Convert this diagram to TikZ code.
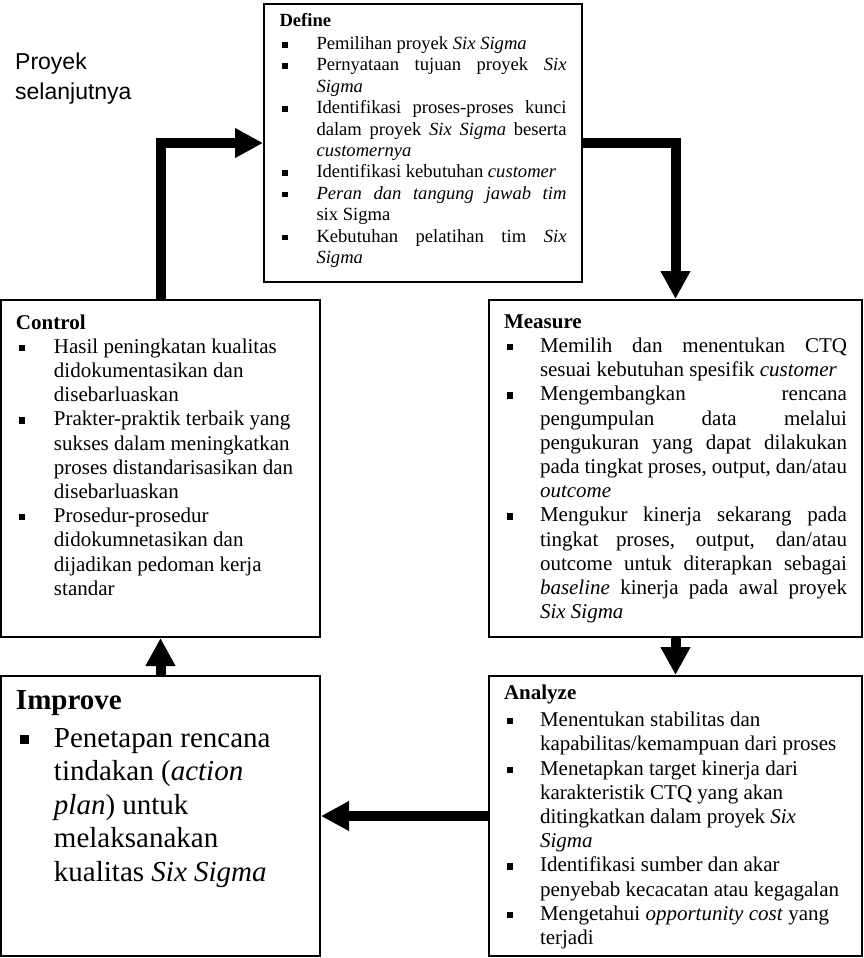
\documentclass[tikz,border=0pt]{standalone}
\usepackage{fontspec}
\setmainfont{Liberation Serif}
\newfontfamily\sansfont{Liberation Sans}
\usetikzlibrary{arrows.meta,positioning}

\newlength{\sqind}
\newcommand{\sqitem}{\par\hangindent=\sqind\hangafter=1%
  \makebox[\sqind][l]{\hspace{0.15em}\rule[0.11em]{0.3em}{0.3em}}\ignorespaces}
\newcommand{\boxbody}[4]{\setlength{\sqind}{#3}%
  \begin{minipage}[t][#2][t]{#1}\hyphenpenalty=10000 \exhyphenpenalty=10000
  \tolerance=10000 #4\end{minipage}}

\begin{document}
\begin{tikzpicture}[x=1pt, y=1pt,
  stage/.style={draw, line width=2pt, inner xsep=15pt, inner ysep=0pt},
  small/.style={font=\fontsize{18.6}{21.4}\selectfont},
  normal/.style={font=\fontsize{21}{24.2}\selectfont},
  arr/.style={-{Triangle[length=28pt, width=28pt]}, line width=10pt},
  node distance=37pt
]
  \useasboundingbox (0,0) rectangle (864,-958);

  % label top left
  \node[font=\sansfont\fontsize{23}{30}\selectfont, align=left, anchor=north west,
        inner sep=0pt] (nextproj) at (15,-53) {Proyek\\selanjutnya};

  % Define
  \node[stage, small, anchor=north west, minimum width=318pt, minimum height=278pt]
    (define) at (263,-3) {\boxbody{287pt}{259pt}{37pt}{%
      \textbf{Define}\par\vspace{1.6pt}
      \sqitem Pemilihan proyek \textit{Six Sigma}
      \sqitem Pernyataan tujuan proyek \textit{Six}\linebreak \textit{Sigma}
      \sqitem Identifikasi proses-proses kunci\linebreak dalam proyek \textit{Six Sigma} beserta\linebreak \textit{customernya}
      \sqitem Identifikasi kebutuhan \textit{customer}
      \sqitem \textit{Peran dan tangung jawab tim}\linebreak six Sigma
      \sqitem Kebutuhan pelatihan tim \textit{Six}\linebreak \textit{Sigma}}};

  % Control
  \node[stage, normal, anchor=north west, minimum width=319pt, minimum height=337pt]
    (control) at (0,-299) {\boxbody{289pt}{308pt}{38pt}{%
      \textbf{Control}
      \sqitem Hasil peningkatan kualitas\newline didokumentasikan dan\newline disebarluaskan
      \sqitem Prakter-praktik terbaik yang\newline sukses dalam meningkatkan\newline proses distandarisasikan dan\newline disebarluaskan
      \sqitem Prosedur-prosedur\newline didokumnetasikan dan\newline dijadikan pedoman kerja\newline standar}};

  % Improve
  \node[stage, font=\fontsize{29}{33.6}\selectfont, below=of control,
        minimum width=319pt, minimum height=280pt]
    (improve) {\boxbody{289pt}{251pt}{38pt}{%
      {\fontsize{29}{30}\selectfont\textbf{Improve}}\par\vspace{4pt}
      \sqitem Penetapan rencana\newline tindakan (\textit{action}\newline \textit{plan}) untuk\newline melaksanakan\newline kualitas \textit{Six Sigma}}};

  % Measure
  \node[stage, normal, right=167pt of control, minimum width=373pt, minimum height=337pt]
    (measure) {\boxbody{343pt}{308pt}{36pt}{%
      \textbf{Measure}
      \sqitem Memilih dan menentukan CTQ\linebreak sesuai kebutuhan spesifik \textit{customer}
      \sqitem Mengembangkan rencana\linebreak pengumpulan data melalui\linebreak pengukuran yang dapat dilakukan\linebreak pada tingkat proses, output, dan/atau\linebreak \textit{outcome}
      \sqitem Mengukur kinerja sekarang pada\linebreak tingkat proses, output, dan/atau\linebreak outcome untuk diterapkan sebagai\linebreak \textit{baseline} kinerja pada awal proyek\linebreak \textit{Six Sigma}}};

  % Analyze
  \node[stage, normal, below=of measure, minimum width=373pt, minimum height=280pt]
    (analyze) {\boxbody{343pt}{262pt}{36pt}{%
      \textbf{Analyze}\par\vspace{3pt}
      \sqitem Menentukan stabilitas dan\newline kapabilitas/kemampuan dari proses
      \sqitem Menetapkan target kinerja dari\newline karakteristik CTQ yang akan\newline ditingkatkan dalam proyek \textit{Six}\newline \textit{Sigma}
      \sqitem Identifikasi sumber dan akar\newline penyebab kecacatan atau kegagalan
      \sqitem Mengetahui \textit{opportunity cost} yang\newline terjadi}};

  % Arrows
  \draw[arr] (control.north) |- (define.west);
  \draw[arr] (define.east) -| (measure.north);
  \draw[arr] (measure) -- (analyze);
  \draw[arr] (analyze) -- (improve);
  \draw[arr] (improve) -- (control);
\end{tikzpicture}
\end{document}
